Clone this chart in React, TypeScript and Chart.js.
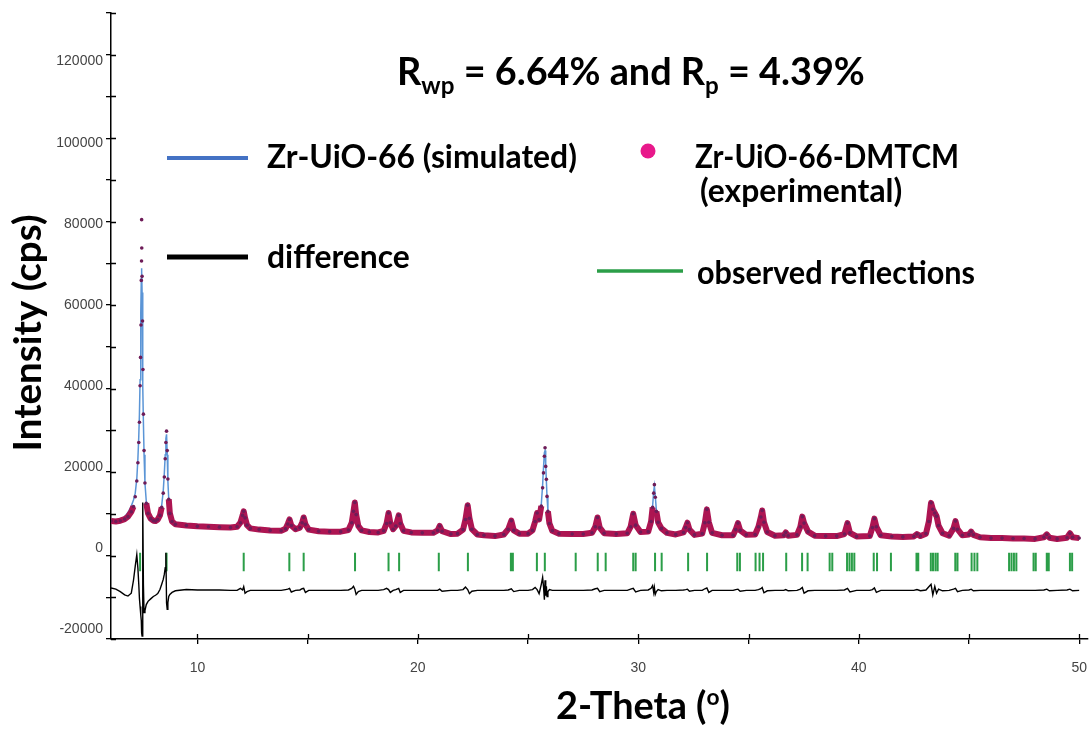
import React, { useEffect, useRef } from "react";
import { Chart, registerables } from "chart.js";

Chart.register(...registerables);

// 2-theta grid (degrees) shared by the observed, calculated and difference profiles
const twoTheta = [
  6.08, 6.30, 6.50, 6.70, 6.85, 7.00, 7.10, 7.18, 7.25, 7.30,
  7.34, 7.37, 7.40, 7.42, 7.44, 7.455, 7.465, 7.47, 7.475, 7.49,
  7.51, 7.53, 7.55, 7.58, 7.62, 7.68, 7.76, 7.88, 8.00, 8.10,
  8.20, 8.30, 8.38, 8.45, 8.50, 8.54, 8.57, 8.60, 8.63, 8.66,
  8.70, 8.75, 8.85, 9.00, 9.50, 10.00, 10.50, 11.00, 11.50, 11.80,
  11.95, 12.05, 12.10, 12.16, 12.25, 12.40, 12.80, 13.30, 13.80, 14.00,
  14.10, 14.18, 14.26, 14.45, 14.65, 14.75, 14.82, 14.90, 15.05, 15.50,
  16.00, 16.50, 16.85, 17.00, 17.08, 17.14, 17.20, 17.30, 17.45, 17.80,
  18.20, 18.45, 18.58, 18.67, 18.75, 18.88, 19.00, 19.13, 19.20, 19.35,
  19.70, 20.20, 20.70, 20.90, 20.99, 21.10, 21.50, 21.80, 22.05, 22.16,
  22.26, 22.34, 22.45, 22.70, 23.00, 23.50, 23.90, 24.10, 24.24, 24.35,
  24.60, 25.00, 25.20, 25.32, 25.41, 25.50, 25.60, 25.66, 25.70, 25.74,
  25.77, 25.80, 25.83, 25.86, 25.90, 25.97, 26.10, 26.40, 27.00, 27.50,
  27.90, 28.05, 28.15, 28.25, 28.45, 29.00, 29.50, 29.65, 29.77, 29.88,
  30.10, 30.45, 30.58, 30.65, 30.70, 30.73, 30.77, 30.82, 30.90, 31.05,
  31.30, 31.70, 32.05, 32.15, 32.23, 32.32, 32.55, 32.90, 33.02, 33.11,
  33.20, 33.35, 33.80, 34.30, 34.42, 34.52, 34.62, 34.90, 35.30, 35.45,
  35.56, 35.62, 35.70, 35.85, 36.20, 36.60, 36.69, 36.80, 37.20, 37.35,
  37.44, 37.52, 37.70, 38.00, 38.50, 39.00, 39.35, 39.49, 39.60, 39.90,
  40.50, 40.62, 40.71, 40.80, 41.00, 41.50, 42.00, 42.50, 42.64, 42.80,
  43.05, 43.18, 43.28, 43.36, 43.45, 43.53, 43.62, 43.80, 44.10, 44.30,
  44.39, 44.48, 44.70, 45.00, 45.10, 45.20, 45.50, 46.00, 46.50, 47.00,
  47.50, 48.00, 48.40, 48.53, 48.65, 49.00, 49.45, 49.58, 49.70, 50.00,
];

// Zr-UiO-66-DMTCM, measured intensity (cps)
const observed = [
  6600, 6500, 6700, 7100, 7700, 8900, 10200, 12600, 16500, 21000,
  26000, 31000, 40000, 47000, 55000, 66000, 70800, 81000, 74000, 67000,
  56000, 44000, 33000, 24000, 16000, 11000, 8500, 7200, 6700, 6600,
  7000, 8000, 10000, 13500, 17500, 22000, 26000, 28800, 24000, 17000,
  12000, 8500, 6500, 5800, 5500, 5300, 5200, 5100, 5000, 5200,
  6200, 8000, 9000, 7400, 5600, 4800, 4500, 4300, 4200, 4700,
  5900, 7000, 5500, 4600, 5000, 6200, 7500, 5800, 4500, 4100,
  4000, 4000, 4400, 6200, 9000, 11200, 8200, 5400, 4300, 3900,
  3800, 4200, 6000, 8600, 6200, 4600, 5400, 8000, 6000, 4200,
  3800, 3700, 3700, 4300, 5400, 4100, 3400, 3500, 4500, 7000,
  10500, 7300, 4600, 3300, 3100, 2900, 3300, 4600, 6700, 4300,
  3500, 3500, 4300, 6500, 8600, 7000, 10300, 14800, 18500, 22600,
  24700, 20100, 16900, 12700, 9000, 6000, 4200, 3500, 3400, 3400,
  3700, 5200, 7500, 5000, 3600, 3400, 3600, 5200, 8400, 5600,
  3900, 4000, 6500, 10000, 13500, 15600, 12500, 9000, 6300, 4800,
  3700, 3300, 3800, 5000, 6200, 4500, 3200, 3500, 6200, 9500,
  6300, 3700, 3100, 3100, 4500, 6100, 4300, 3200, 3300, 5200,
  7600, 9200, 6300, 3900, 3000, 3100, 3800, 3000, 3200, 5200,
  7700, 6100, 4000, 3000, 2900, 2900, 3400, 6100, 3700, 2800,
  2900, 5000, 7200, 5200, 3100, 2800, 2700, 2800, 3400, 2900,
  3500, 6500, 11100, 9500, 8600, 7800, 5500, 3600, 3000, 4800,
  6600, 4600, 3100, 3300, 4000, 3200, 2600, 2400, 2400, 2300,
  2300, 2200, 2600, 3300, 2500, 2200, 2500, 3600, 2600, 2400,
];

// Zr-UiO-66, simulated pattern (cps)
const calculated = [
  6600, 6500, 6800, 7700, 8700, 10300, 11800, 13500, 17000, 22000,
  27500, 33000, 41500, 49000, 58000, 66500, 69000, 69000, 68500, 63000,
  52000, 40000, 31000, 23000, 16000, 11500, 9000, 7500, 6900, 6800,
  7300, 8400, 10500, 14000, 18500, 23000, 27000, 28000, 23000, 16500,
  12000, 8700, 6700, 5900, 5500, 5300, 5200, 5100, 5000, 5200,
  6300, 8200, 8800, 7600, 5600, 4800, 4500, 4300, 4200, 4700,
  5900, 6900, 5500, 4600, 5000, 6200, 7300, 5800, 4500, 4100,
  4000, 4000, 4400, 6200, 9200, 10800, 8400, 5400, 4300, 3900,
  3800, 4200, 6000, 8500, 6300, 4600, 5400, 7900, 6100, 4200,
  3800, 3700, 3700, 4300, 5400, 4100, 3400, 3500, 4500, 7100,
  10300, 7500, 4600, 3300, 3100, 2900, 3300, 4600, 6600, 4400,
  3500, 3500, 4300, 6600, 8300, 7300, 10800, 15500, 19800, 23500,
  24000, 20500, 16500, 12500, 9200, 6100, 4200, 3500, 3400, 3400,
  3700, 5200, 7300, 5100, 3600, 3400, 3600, 5300, 8200, 5700,
  3900, 4000, 6700, 10400, 14000, 15200, 12800, 9300, 6400, 4800,
  3700, 3300, 3800, 5000, 6100, 4600, 3200, 3500, 6300, 9300,
  6500, 3700, 3100, 3100, 4500, 6000, 4400, 3200, 3300, 5200,
  7700, 9000, 6500, 3900, 3000, 3100, 3700, 3000, 3200, 5300,
  7500, 6300, 4000, 3000, 2900, 2900, 3400, 6000, 3800, 2800,
  2900, 5100, 7000, 5400, 3100, 2800, 2700, 2800, 3400, 2900,
  3500, 6800, 10500, 9800, 8500, 8000, 5600, 3600, 3000, 4800,
  6500, 4700, 3100, 3300, 4000, 3200, 2600, 2400, 2400, 2300,
  2300, 2200, 2600, 3300, 2500, 2200, 2500, 3500, 2600, 2400,
];

// Difference curve (observed - calculated), plotted with its offset (cps)
const difference = [
  -9900, -10200, -10800, -11600, -11900, -11200, -8000, -4500, -1700, -5000,
  -9000, -12500, -14500, -15500, -16500, -18000, -19500, -20500, -21000, -21800,
  -21800, 11200, -9000, -16000, -15500, -14000, -13200, -12600, -12000, -11700,
  -11300, -10300, -9000, -7800, -6500, -4900, -1200, -13600, -15200, -13500,
  -12000, -11500, -11000, -10600, -10300, -10400, -10400, -10400, -10500, -10500,
  -10000, -10400, -9600, -11200, -10800, -10500, -10500, -10500, -10500, -10300,
  -10200, -10000, -10900, -10500, -10400, -10100, -10000, -11000, -10500, -10500,
  -10500, -10500, -10400, -10000, -9500, -10200, -11500, -10800, -10500, -10500,
  -10500, -10300, -10000, -10300, -11000, -10500, -10300, -10000, -11000, -10500,
  -10500, -10500, -10500, -10500, -10200, -10700, -10500, -10500, -10300, -9700,
  -10300, -11300, -10700, -10500, -10500, -10500, -10500, -10400, -10100, -10800,
  -10500, -10500, -10300, -9800, -10300, -11300, -9000, -7300, -9500, -12800,
  -8000, -11800, -9500, -12000, -10800, -10300, -10500, -10500, -10500, -10500,
  -10400, -10100, -10000, -10800, -10500, -10500, -10500, -10200, -10000, -10900,
  -10500, -10400, -10000, -9300, -11000, -9800, -11500, -10800, -10300, -10600,
  -10500, -10500, -10400, -10300, -10200, -10700, -10500, -10500, -10100, -9900,
  -11000, -10500, -10500, -10500, -10300, -10200, -10700, -10500, -10500, -10300,
  -10100, -9800, -11100, -10600, -10500, -10500, -10300, -10600, -10500, -10200,
  -9800, -11200, -10600, -10500, -10500, -10500, -10400, -10000, -10900, -10500,
  -10500, -10300, -9900, -11000, -10500, -10500, -10500, -10500, -10300, -10600,
  -10400, -9600, -9000, -11600, -9500, -11200, -10200, -10600, -10500, -10200,
  -10000, -10800, -10500, -10400, -10200, -10600, -10500, -10500, -10500, -10500,
  -10500, -10500, -10400, -10200, -10600, -10500, -10400, -10200, -10600, -10500,
];

// Positions of the observed reflections (degrees 2-theta)
const reflections = [
  7.40, 8.60, 12.10, 14.17, 14.82, 17.15, 18.67, 19.15, 20.95, 22.27,
  24.22, 24.31, 25.40, 25.76, 27.16, 28.16, 28.52, 29.77, 29.88, 30.76,
  31.06, 32.26, 33.12, 34.49, 34.61, 35.32, 35.50, 35.66, 36.71, 37.43,
  37.68, 38.68, 38.80, 39.47, 39.58, 39.69, 39.80, 40.68, 40.83, 41.46,
  42.62, 42.70, 43.27, 43.37, 43.48, 43.58, 44.38, 44.48, 45.12, 45.25,
  45.38, 46.82, 46.93, 47.04, 47.15, 47.93, 48.03, 48.53, 48.62, 49.58,
  49.68,
];
const reflectionTop = -1230;
const reflectionBottom = -5780;

// Labelled tick values
const xTickLabels = [10, 20, 30, 40, 50];
const yTickLabels = [-20000, 0, 20000, 40000, 60000, 80000, 100000, 120000];

const OBS_BAND = "#ad1552";
const OBS_MARK = "#6e1c58";
const CALC_LINE = "#5b95d6";
const LEGEND_BLUE = "#4472c4";
const REFL_GREEN = "#2b9e48";
const DOT_PINK = "#e8198b";
const TITLE_FONT = "Lato, 'Open Sans', sans-serif";
const TICK_FONT = "'Liberation Sans', Arial, sans-serif";

function fittedSize(ctx: CanvasRenderingContext2D, text: string, width: number) {
  ctx.font = `bold 100px ${TITLE_FONT}`;
  return (100 * width) / ctx.measureText(text).width;
}

// Bold text at a given size; when a width is given the line is squeezed horizontally to it
function drawText(
  ctx: CanvasRenderingContext2D,
  text: string,
  x: number,
  baseline: number,
  size: number,
  width?: number
) {
  ctx.font = `bold ${size}px ${TITLE_FONT}`;
  ctx.textAlign = "left";
  ctx.textBaseline = "alphabetic";
  const natural = ctx.measureText(text).width;
  const sx = width ? Math.min(1, width / natural) : 1;
  ctx.save();
  ctx.translate(x, baseline);
  ctx.scale(sx, 1);
  ctx.fillText(text, 0, 0);
  ctx.restore();
}

type Piece = { text: string; shift: number; scale: number };

function drawPieces(ctx: CanvasRenderingContext2D, pieces: Piece[], x: number, baseline: number, width: number) {
  let total = 0;
  for (const p of pieces) {
    ctx.font = `bold ${100 * p.scale}px ${TITLE_FONT}`;
    total += ctx.measureText(p.text).width;
  }
  const size = (100 * width) / total;
  let cx = x;
  ctx.textAlign = "left";
  ctx.textBaseline = "alphabetic";
  for (const p of pieces) {
    ctx.font = `bold ${size * p.scale}px ${TITLE_FONT}`;
    ctx.fillText(p.text, cx, baseline + p.shift * size);
    cx += ctx.measureText(p.text).width;
  }
}

function legendLine(ctx: CanvasRenderingContext2D, color: string, width: number, x0: number, x1: number, y: number) {
  ctx.strokeStyle = color;
  ctx.lineWidth = width;
  ctx.lineCap = "butt";
  ctx.beginPath();
  ctx.moveTo(x0, y);
  ctx.lineTo(x1, y);
  ctx.stroke();
}

const decorations = {
  id: "decorations",
  afterDraw(chart: any) {
    const { ctx, chartArea, scales } = chart;
    const xs = scales.x;
    const ys = scales.y;
    ctx.save();

    // inner halves of the tick marks, so that they cross the axes
    ctx.strokeStyle = "#000";
    ctx.lineWidth = 1.3;
    ctx.beginPath();
    for (const t of xs.ticks) {
      const px = Math.round(xs.getPixelForValue(t.value)) + 0.5;
      ctx.moveTo(px, chartArea.bottom);
      ctx.lineTo(px, chartArea.bottom - 5);
    }
    for (const t of ys.ticks) {
      const py = Math.round(ys.getPixelForValue(t.value)) + 0.5;
      ctx.moveTo(chartArea.left, py);
      ctx.lineTo(chartArea.left + 5, py);
    }
    ctx.stroke();

    // tick labels
    ctx.fillStyle = "#444";
    ctx.font = `14px ${TICK_FONT}`;
    ctx.textAlign = "right";
    ctx.textBaseline = "middle";
    for (const v of yTickLabels) {
      ctx.fillText(String(v), chartArea.left - 8, ys.getPixelForValue(v));
    }
    ctx.textAlign = "center";
    ctx.textBaseline = "top";
    for (const v of xTickLabels) {
      ctx.fillText(String(v), xs.getPixelForValue(v), chartArea.bottom + 22);
    }

    ctx.fillStyle = "#000";

    // fit statistics
    drawPieces(
      ctx,
      [
        { text: "R", shift: 0, scale: 1 },
        { text: "wp", shift: 0.24, scale: 0.64 },
        { text: " = 6.64% and R", shift: 0, scale: 1 },
        { text: "p", shift: 0.24, scale: 0.64 },
        { text: " = 4.39%", shift: 0, scale: 1 },
      ],
      397,
      85,
      468
    );

    // legend
    const legendSize = fittedSize(ctx, "Zr-UiO-66 (simulated)", 310);
    legendLine(ctx, LEGEND_BLUE, 4, 167, 248, 158);
    drawText(ctx, "Zr-UiO-66 (simulated)", 267, 168, legendSize);

    ctx.fillStyle = DOT_PINK;
    ctx.beginPath();
    ctx.arc(648, 151, 7.5, 0, Math.PI * 2);
    ctx.fill();
    ctx.fillStyle = "#000";
    drawText(ctx, "Zr-UiO-66-DMTCM", 695, 168, legendSize, 264);
    drawText(ctx, "(experimental)", 700, 202, legendSize, 213);

    legendLine(ctx, "#000", 5, 167, 248, 257);
    drawText(ctx, "difference", 267, 268, legendSize, 148);

    legendLine(ctx, REFL_GREEN, 3.5, 597, 683, 271);
    drawText(ctx, "observed reflections", 697, 284, legendSize, 278);

    // axis titles
    drawPieces(
      ctx,
      [
        { text: "2-Theta (", shift: 0, scale: 1 },
        { text: "o", shift: -0.38, scale: 0.6 },
        { text: ")", shift: 0, scale: 1 },
      ],
      556,
      719,
      174
    );

    ctx.save();
    ctx.translate(41, 333);
    ctx.rotate(-Math.PI / 2);
    const ySize = fittedSize(ctx, "Intensity (cps)", 237);
    ctx.font = `bold ${ySize}px ${TITLE_FONT}`;
    ctx.textAlign = "center";
    ctx.textBaseline = "alphabetic";
    ctx.fillText("Intensity (cps)", 0, 0);
    ctx.restore();

    ctx.restore();
  },
};

export default function App() {
  const canvasRef = useRef<HTMLCanvasElement | null>(null);

  useEffect(() => {
    const canvas = canvasRef.current;
    if (!canvas) return;

    const obsPoints = twoTheta.map((t, i) => ({ x: t, y: observed[i] }));
    const calcPoints = twoTheta.map((t, i) => ({ x: t, y: calculated[i] }));
    const diffPoints = twoTheta.map((t, i) => ({ x: t, y: difference[i] }));
    const reflPoints: { x: number; y: number | null }[] = [];
    for (const t of reflections) {
      reflPoints.push({ x: t, y: reflectionTop }, { x: t, y: reflectionBottom }, { x: t, y: null });
    }

    const chart = new Chart(canvas, {
      type: "line",
      data: {
        datasets: [
          {
            label: "Zr-UiO-66-DMTCM (experimental)",
            data: obsPoints,
            borderColor: OBS_BAND,
            borderWidth: 6,
            borderJoinStyle: "round",
            pointRadius: 1.8,
            pointBackgroundColor: OBS_MARK,
            pointBorderWidth: 0,
            segment: {
              // on the tall, steep peak flanks only the individual points are shown
              borderColor: (c: any) =>
                Math.max(c.p0.parsed.y, c.p1.parsed.y) > 12000 ? "rgba(0,0,0,0)" : OBS_BAND,
            },
          },
          {
            label: "Zr-UiO-66 (simulated)",
            data: calcPoints,
            borderColor: CALC_LINE,
            borderWidth: 1.5,
            pointRadius: 0,
          },
          {
            label: "difference",
            data: diffPoints,
            borderColor: "#000",
            borderWidth: 1.4,
            pointRadius: 0,
          },
          {
            label: "observed reflections",
            data: reflPoints,
            borderColor: REFL_GREEN,
            borderWidth: 2,
            pointRadius: 0,
            spanGaps: false,
          },
        ],
      } as any,
      options: {
        animation: false,
        responsive: false,
        events: [],
        layout: { padding: { top: 13, right: 2, left: 0, bottom: 0 } },
        plugins: {
          legend: { display: false },
          tooltip: { enabled: false },
        },
        scales: {
          x: {
            type: "linear",
            min: 6.08,
            max: 50.4,
            afterFit: (s: any) => {
              s.height = 96;
            },
            border: { display: true, color: "#000", width: 1.5 },
            grid: { drawOnChartArea: false, drawTicks: true, tickLength: 5, color: "#000", lineWidth: 1.3 },
            ticks: {
              stepSize: 5,
              autoSkip: false,
              maxRotation: 0,
              includeBounds: false,
              padding: 0,
              callback: () => "",
            },
          },
          y: {
            type: "linear",
            min: -22500,
            max: 132000,
            afterFit: (s: any) => {
              s.width = 111;
            },
            border: { display: true, color: "#000", width: 1.5 },
            grid: { drawOnChartArea: false, drawTicks: true, tickLength: 5, color: "#000", lineWidth: 1.3 },
            ticks: {
              stepSize: 10000,
              autoSkip: false,
              includeBounds: false,
              padding: 0,
              callback: () => "",
            },
          },
        },
      } as any,
      plugins: [decorations],
    });

    return () => chart.destroy();
  }, []);

  return (
    <div style={{ position: "absolute", left: 0, top: 0, width: 1092, height: 735, background: "#fff" }}>
      <canvas ref={canvasRef} width={1092} height={735} style={{ width: 1092, height: 735, display: "block" }} />
    </div>
  );
}
